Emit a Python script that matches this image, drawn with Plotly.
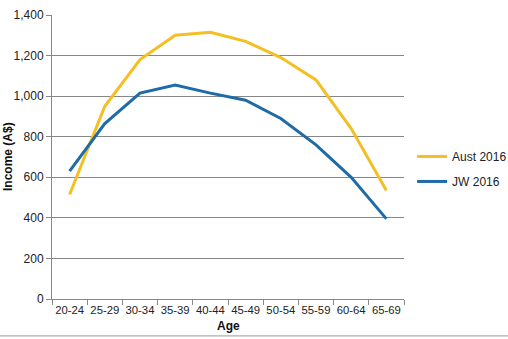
import plotly.graph_objects as go

ages = ["20-24", "25-29", "30-34", "35-39", "40-44", "45-49", "50-54", "55-59", "60-64", "65-69"]
aust_2016 = [515, 950, 1180, 1300, 1315, 1270, 1190, 1080, 840, 535]
jw_2016 = [630, 865, 1015, 1055, 1015, 980, 890, 760, 600, 395]
y_ticks = [0, 200, 400, 600, 800, 1000, 1200, 1400]

font = "Liberation Sans, Arial, sans-serif"

fig = go.Figure()
fig.add_trace(go.Scatter(x=ages, y=aust_2016, mode="lines", name="Aust 2016",
                         line=dict(color="#F4BF22", width=3), legendgroup="a"))
fig.add_trace(go.Scatter(x=ages, y=jw_2016, mode="lines", name="JW 2016",
                         line=dict(color="#1E6BA8", width=3), legendgroup="b"))

fig.update_layout(
    width=508, height=339,
    margin=dict(l=52, r=104, t=15, b=40, autoexpand=False),
    paper_bgcolor="white", plot_bgcolor="white",
    font=dict(family=font, size=12, color="#222"),
    showlegend=True,
    legend=dict(x=1.023, y=0.553, xanchor="left", yanchor="top",
                font=dict(size=12, color="#222"), itemwidth=30,
                tracegroupgap=6, bgcolor="rgba(0,0,0,0)"),
    xaxis=dict(type="category", range=[-0.5, 9.5], tickson="boundaries",
               ticks="outside", ticklen=5, tickangle=0, automargin=False,
               tickcolor="#888", showline=True, linecolor="#888", linewidth=1,
               showgrid=False, tickfont=dict(size=11.3)),
    yaxis=dict(range=[0, 1400], tickvals=y_ticks, tickformat=",", ticks="outside",
               ticklen=5, tickcolor="#888", showline=True, linecolor="#888",
               linewidth=1, showgrid=True, gridcolor="#868686", gridwidth=1,
               zeroline=False, automargin=False, tickfont=dict(size=12)),
    annotations=[
        dict(text="<b>Age</b>", xref="paper", yref="paper", x=0.5, y=-0.095,
             xanchor="center", yanchor="middle", showarrow=False,
             font=dict(size=12, color="#111")),
        dict(text="<b>Income (A$)</b>", xref="paper", yref="paper", x=-0.125, y=0.5,
             xanchor="center", yanchor="middle", showarrow=False, textangle=-90,
             font=dict(size=12, color="#111")),
    ],
)
fig.add_shape(type="line", xref="paper", yref="paper", x0=-0.2, x1=1.3,
              y0=-0.13, y1=-0.13, line=dict(color="#999", width=1))
fig.write_html("out.html", config={"displayModeBar": False},
               post_script="document.body.style.margin='0';")
